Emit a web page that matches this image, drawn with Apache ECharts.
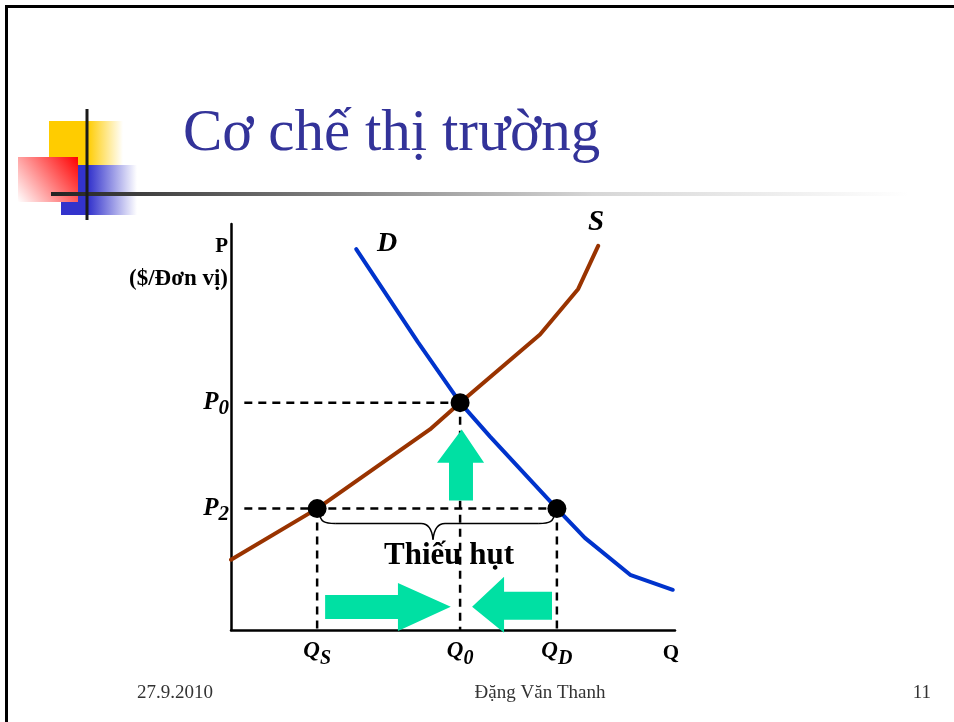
<!DOCTYPE html>
<html><head><meta charset="utf-8">
<script src="https://cdn.jsdelivr.net/npm/echarts@6/dist/echarts.min.js"></script>
<style>html,body{margin:0;padding:0;background:#fff}#c{width:954px;height:722px}</style>
</head><body><div id="c"></div>
<script>
// ---- data (in abstract chart units: Q 0..100, P 0..100) ----
const supplyCurve = [[0,17.3],[19.4,29.9],[44.8,49.4],[51.6,56.0],[69.6,72.8],[78.2,84.0],[82.7,94.6]];
const demandCurve = [[28.2,93.8],[42.1,70.9],[51.6,56.0],[58.3,47.7],[73.4,29.9],[79.7,22.7],[89.9,13.6],[99.5,9.9]];
const Q_S = 19.4, Q_0 = 51.6, Q_D = 73.4;
const P_0 = 56.0, P_2 = 29.9;
const guideStart = 3;
const braceTip = 45.5;
const priceTickValues = [P_2, P_0];
const priceTickLabels = ['{m|P}{s|2}', '{m|P}{s|0}'];
const quantityTickValues = [Q_S, Q_0, Q_D];
const quantityTickLabels = ['{m|Q}{s|S}', '{m|Q}{s|0}', '{m|Q}{s|D}'];
const marketPoints = [[Q_S,P_2],[Q_0,P_0],[Q_D,P_2]];
const guideLines = [
  [[guideStart,P_0],[Q_0,P_0]],
  [[guideStart,P_2],[Q_D,P_2]],
  [[Q_S,P_2],[Q_S,0]],
  [[Q_0,P_0],[Q_0,0]],
  [[Q_D,P_2],[Q_D,0]]
];
const arrowShapes = [
  [[51.96,49.4],[57.0,41.2],[54.5,41.2],[54.5,31.9],[49.1,31.9],[49.1,41.2],[46.4,41.2]],
  [[21.2,8.6],[37.6,8.6],[37.6,11.6],[49.5,5.7],[37.6,-0.25],[37.6,2.7],[21.2,2.7]],
  [[54.3,5.7],[61.5,13.1],[61.5,9.4],[72.3,9.4],[72.3,2.5],[61.5,2.5],[61.5,-0.7]]
];
const curveNames = ['D', 'S'];
const shortageText = 'Thiếu hụt';
const titleText = 'Cơ chế thị trường';
const footerTexts = ['27.9.2010', 'Đặng Văn Thanh', '11'];

const SERIF = '"Liberation Serif","Times New Roman",serif';
const bi = {fontFamily: SERIF, fontWeight: 'bold', fontStyle: 'italic', color: '#000'};

function pick(vals, labels, v){
  let best = 0;
  vals.forEach((x,i)=>{ if (Math.abs(x-v) < Math.abs(vals[best]-v)) best = i; });
  return labels[best];
}

const chart = echarts.init(document.getElementById('c'), null, {renderer: 'canvas'});

const guideSeries = guideLines.map(seg => ({
  type: 'line', data: seg, symbol: 'none', silent: true, z: 2,
  lineStyle: {color: '#000', width: 2.5, type: [8, 6]}
}));

const option = {
  animation: false,
  backgroundColor: '#fff',
  grid: {left: 231, right: 279, top: 224, bottom: 92, outerBoundsMode: 'none'},
  xAxis: {
    type: 'value', min: 0, max: 100,
    splitLine: {show: false}, axisTick: {show: false},
    axisLine: {onZero: false, lineStyle: {color: '#000', width: 2.5}},
    axisLabel: {
      customValues: quantityTickValues, margin: 3,
      formatter: v => pick(quantityTickValues, quantityTickLabels, v),
      rich: {
        m: Object.assign({fontSize: 23}, bi),
        s: Object.assign({fontSize: 20, padding: [16,0,0,0]}, bi)
      }
    },
    name: 'Q', nameLocation: 'end', nameGap: -4,
    nameMoveOverlap: false,
    nameTextStyle: {fontFamily: SERIF, fontWeight: 'bold', fontSize: 21, color: '#000',
      align: 'center', verticalAlign: 'top', padding: [13,0,0,0]}
  },
  yAxis: {
    type: 'value', min: 0, max: 100,
    splitLine: {show: false}, axisTick: {show: false},
    axisLine: {onZero: false, lineStyle: {color: '#000', width: 2.5}},
    axisLabel: {
      customValues: priceTickValues, margin: 2,
      formatter: v => pick(priceTickValues, priceTickLabels, v),
      rich: {
        m: Object.assign({fontSize: 25}, bi),
        s: Object.assign({fontSize: 21, padding: [11,0,0,0]}, bi)
      }
    },
    name: '{a|P}\n{b|($/Đơn vị)}', nameLocation: 'end', nameGap: -8,
    nameMoveOverlap: false,
    nameTextStyle: {fontFamily: SERIF, fontWeight: 'bold', color: '#000',
      align: 'right', verticalAlign: 'top', padding: [0,3,0,0],
      rich: {
        a: {fontFamily: SERIF, fontWeight: 'bold', fontSize: 21, lineHeight: 30, color: '#000', align: 'right'},
        b: {fontFamily: SERIF, fontWeight: 'bold', fontSize: 23, lineHeight: 34, color: '#000', align: 'right'}
      }}
  },
  series: [
    ...guideSeries,
    {type: 'line', name: 'S', data: supplyCurve, symbol: 'none', z: 3,
      lineStyle: {color: '#993300', width: 4, cap: 'round', join: 'round'}},
    {type: 'line', name: 'D', data: demandCurve, symbol: 'none', z: 3,
      lineStyle: {color: '#0033CC', width: 4, cap: 'round', join: 'round'}},
    {type: 'custom', z: 4, clip: false, silent: true,
      data: arrowShapes.map((_, i) => [i]),
      renderItem: (params, api) => ({
        type: 'polygon',
        shape: {points: arrowShapes[params.dataIndex].map(p => api.coord(p))},
        style: {fill: '#00E0A3'}
      })},
    {type: 'custom', z: 4, clip: false, silent: true,
      data: [[0]],
      renderItem: (params, api) => {
        const a = api.coord([Q_S, P_2]), b = api.coord([Q_D, P_2]), m = api.coord([braceTip, P_2]);
        const y0 = a[1], x1 = a[0] + 2, x2 = b[0] - 2, xm = m[0];
        const s = 3, h = 15, d = 31;
        const st = {stroke: '#000', lineWidth: 1.5, fill: null};
        return {type: 'group', children: [
          {type: 'bezierCurve', shape: {x1: x1, y1: y0+s, cpx1: x1+1, cpy1: y0+h-1, cpx2: x1+6, cpy2: y0+h, x2: x1+16, y2: y0+h}, style: st},
          {type: 'line', shape: {x1: x1+16, y1: y0+h, x2: xm-12, y2: y0+h}, style: st},
          {type: 'bezierCurve', shape: {x1: xm-12, y1: y0+h, cpx1: xm-4, cpy1: y0+h, cpx2: xm-1, cpy2: y0+h+6, x2: xm, y2: y0+d}, style: st},
          {type: 'bezierCurve', shape: {x1: xm, y1: y0+d, cpx1: xm+1, cpy1: y0+h+6, cpx2: xm+4, cpy2: y0+h, x2: xm+12, y2: y0+h}, style: st},
          {type: 'line', shape: {x1: xm+12, y1: y0+h, x2: x2-16, y2: y0+h}, style: st},
          {type: 'bezierCurve', shape: {x1: x2-16, y1: y0+h, cpx1: x2-6, cpy1: y0+h, cpx2: x2-1, cpy2: y0+h-1, x2: x2, y2: y0+s}, style: st},
          {type: 'text', style: {text: shortageText, x: xm + 16, y: y0 + 47, align: 'center', verticalAlign: 'middle',
            font: 'bold 31px ' + SERIF, fill: '#000'}}
        ]};
      }},
    {type: 'scatter', data: marketPoints, symbolSize: 19, z: 5, silent: true,
      itemStyle: {color: '#000', opacity: 1}},
    {type: 'scatter', symbolSize: 1, z: 5, silent: true, itemStyle: {color: 'rgba(0,0,0,0)', opacity: 1},
      data: [
        {value: demandCurve[0], name: curveNames[0], label: {offset: [31, -5], fontSize: 28}},
        {value: supplyCurve[supplyCurve.length-1], name: curveNames[1], label: {offset: [-2, -23], fontSize: 29}}
      ],
      label: Object.assign({show: true, position: 'inside', opacity: 1, formatter: p => p.name}, bi)}
  ],
  graphic: [
    {type: 'rect', shape: {x: 5, y: 5, width: 949, height: 3}, style: {fill: '#000'}, z: 10},
    {type: 'rect', shape: {x: 5, y: 5, width: 3, height: 717}, style: {fill: '#000'}, z: 10},
    {type: 'rect', shape: {x: 49, y: 121, width: 74, height: 44}, z: 10,
      style: {fill: new echarts.graphic.LinearGradient(0,0,1,0,[{offset:0,color:'#FFCC00'},{offset:0.52,color:'#FFCC00'},{offset:1,color:'#ffffff'}])}},
    {type: 'rect', shape: {x: 61, y: 165, width: 76, height: 50}, z: 10,
      style: {fill: new echarts.graphic.LinearGradient(0,0,1,0,[{offset:0,color:'#3333CC'},{offset:0.36,color:'#3333CC'},{offset:1,color:'#ffffff'}])}},
    {type: 'rect', shape: {x: 18, y: 157, width: 60, height: 45}, z: 11,
      style: {fill: new echarts.graphic.LinearGradient(1,0,0,1,[{offset:0,color:'#FF0000'},{offset:1,color:'#ffffff'}])}},
    {type: 'rect', shape: {x: 51, y: 192, width: 903, height: 4}, z: 12,
      style: {fill: new echarts.graphic.LinearGradient(0,0,1,0,[{offset:0,color:'#222222'},{offset:0.6,color:'#d6d6d6'},{offset:0.95,color:'#ffffff'}])}},
    {type: 'rect', shape: {x: 85.5, y: 109, width: 3, height: 111}, style: {fill: '#1a1a1a'}, z: 13},
    {type: 'text', x: 183, y: 134, z: 10,
      style: {text: titleText, font: 'normal 59px ' + SERIF, fill: '#333399', align: 'left', verticalAlign: 'middle'}},
    {type: 'text', x: 137, y: 693, z: 10,
      style: {text: footerTexts[0], font: 'normal 19px ' + SERIF, fill: '#333', align: 'left', verticalAlign: 'middle'}},
    {type: 'text', x: 540, y: 693, z: 10,
      style: {text: footerTexts[1], font: 'normal 19px ' + SERIF, fill: '#333', align: 'center', verticalAlign: 'middle'}},
    {type: 'text', x: 931, y: 693, z: 10,
      style: {text: footerTexts[2], font: 'normal 19px ' + SERIF, fill: '#333', align: 'right', verticalAlign: 'middle'}}
  ]
};
chart.setOption(option);
</script>
</body></html>
